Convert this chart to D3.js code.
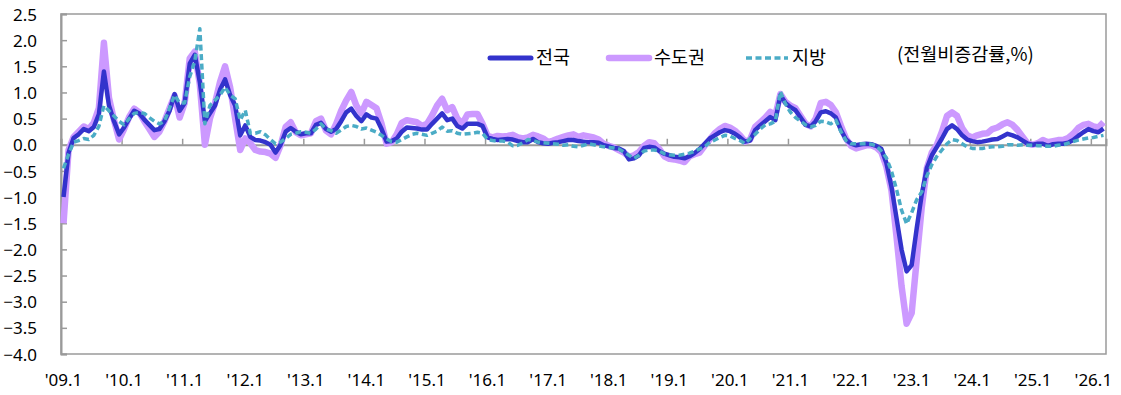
<!DOCTYPE html>
<html><head><meta charset="utf-8">
<script src="https://cdn.jsdelivr.net/npm/d3@7"></script>
<style>
html,body{margin:0;padding:0;background:#fff;}
svg{display:block;font-family:"Noto Sans","Noto Sans CJK KR",sans-serif;}
</style></head>
<body><svg id="chart" width="1121" height="395"></svg>
<script>
// Monthly categories: 2009.01 .. 2026.03
const months = d3.timeMonths(new Date(2009,0,1), new Date(2026,3,1));
const tickLabels = ["'09.1","'10.1","'11.1","'12.1","'13.1","'14.1","'15.1","'16.1","'17.1","'18.1","'19.1","'20.1","'21.1","'22.1","'23.1","'24.1","'25.1","'26.1"];
const yTicks = [2.5,2.0,1.5,1.0,0.5,0.0,-0.5,-1.0,-1.5,-2.0,-2.5,-3.0,-3.5,-4.0];
const seriesNames = ["전국","수도권","지방"];

const sudogwon = [
-1.5,-0.1,0.15,0.25,0.35,0.30,0.42,0.70,1.95,0.90,
0.47,0.10,0.30,0.53,0.69,0.62,0.45,0.30,0.15,0.25,
0.45,0.70,0.94,0.52,0.80,1.65,1.78,1.15,0.00,0.50,
0.80,1.20,1.50,1.10,0.50,-0.10,0.12,0.03,-0.10,-0.13,
-0.14,-0.17,-0.25,-0.01,0.34,0.43,0.24,0.18,0.20,0.22,
0.45,0.50,0.27,0.20,0.40,0.65,0.85,1.01,0.75,0.60,
0.82,0.76,0.70,0.40,0.02,0.05,0.20,0.42,0.47,0.45,
0.43,0.36,0.40,0.56,0.75,0.88,0.66,0.72,0.50,0.40,
0.58,0.59,0.59,0.40,0.17,0.14,0.17,0.16,0.17,0.19,
0.14,0.12,0.14,0.19,0.16,0.12,0.05,0.08,0.12,0.15,
0.18,0.20,0.15,0.18,0.16,0.14,0.10,0.02,-0.02,-0.05,
-0.10,-0.15,-0.23,-0.20,-0.14,-0.02,0.05,0.03,-0.08,-0.22,
-0.27,-0.28,-0.30,-0.33,-0.22,-0.18,-0.15,-0.02,0.10,0.22,
0.30,0.36,0.33,0.27,0.18,0.06,0.10,0.34,0.43,0.52,
0.63,0.56,0.97,0.82,0.75,0.70,0.55,0.40,0.35,0.50,
0.80,0.82,0.76,0.62,0.36,0.12,-0.02,-0.07,-0.04,-0.01,
-0.01,-0.05,-0.14,-0.42,-0.87,-1.75,-2.70,-3.42,-3.22,-2.20,
-1.20,-0.45,-0.15,0.00,0.25,0.55,0.62,0.55,0.32,0.18,
0.14,0.18,0.21,0.22,0.30,0.33,0.39,0.43,0.38,0.28,
0.15,0.02,0.00,0.03,0.09,0.05,0.07,0.09,0.09,0.13,
0.21,0.32,0.38,0.40,0.35,0.33,0.43];

const jeonguk = [
-1.0,-0.15,0.13,0.20,0.30,0.26,0.34,0.58,1.40,0.75,
0.45,0.20,0.33,0.50,0.65,0.60,0.48,0.38,0.28,0.30,
0.45,0.65,0.97,0.65,0.80,1.55,1.72,1.20,0.45,0.60,
0.75,1.05,1.25,0.95,0.75,0.18,0.37,0.15,0.09,0.08,
0.05,0.00,-0.15,0.00,0.25,0.32,0.25,0.20,0.22,0.22,
0.38,0.42,0.30,0.25,0.30,0.45,0.62,0.69,0.55,0.45,
0.58,0.52,0.50,0.30,0.06,0.07,0.12,0.25,0.33,0.32,
0.31,0.29,0.29,0.40,0.50,0.60,0.47,0.50,0.36,0.31,
0.40,0.40,0.40,0.36,0.14,0.11,0.09,0.10,0.11,0.10,
0.07,0.05,0.05,0.11,0.05,0.03,0.02,0.04,0.05,0.07,
0.09,0.09,0.07,0.06,0.05,0.05,0.04,-0.01,-0.03,-0.06,
-0.07,-0.12,-0.28,-0.26,-0.20,-0.06,-0.04,-0.05,-0.12,-0.17,
-0.20,-0.23,-0.24,-0.26,-0.22,-0.16,-0.08,0.02,0.12,0.18,
0.24,0.28,0.26,0.21,0.14,0.06,0.08,0.28,0.37,0.45,
0.53,0.47,0.95,0.80,0.72,0.66,0.52,0.38,0.35,0.45,
0.62,0.64,0.60,0.52,0.28,0.10,0.02,-0.01,0.01,0.02,
0.01,-0.02,-0.08,-0.35,-0.80,-1.40,-2.00,-2.42,-2.30,-1.60,
-0.95,-0.45,-0.20,-0.04,0.12,0.30,0.37,0.30,0.18,0.10,
0.07,0.05,0.06,0.08,0.10,0.11,0.16,0.21,0.18,0.14,
0.08,0.02,0.00,0.02,0.02,-0.02,0.01,0.02,0.02,0.04,
0.09,0.17,0.24,0.30,0.26,0.24,0.31];

const jibang = [
-0.45,-0.18,0.05,0.08,0.12,0.10,0.18,0.35,0.75,0.65,
0.55,0.45,0.38,0.50,0.60,0.62,0.60,0.52,0.45,0.40,
0.45,0.70,0.95,0.80,0.80,1.30,1.60,2.22,0.40,0.75,
0.85,0.95,1.10,0.95,0.88,0.47,0.66,0.22,0.22,0.25,
0.19,0.10,0.02,0.05,0.12,0.20,0.22,0.25,0.24,0.22,
0.30,0.40,0.30,0.27,0.22,0.28,0.35,0.37,0.35,0.30,
0.32,0.28,0.24,0.18,0.11,0.06,0.05,0.10,0.15,0.20,
0.22,0.20,0.18,0.22,0.26,0.34,0.26,0.27,0.22,0.20,
0.21,0.22,0.24,0.22,0.10,0.08,0.07,0.07,0.05,-0.02,
-0.01,0.04,0.10,0.08,0.05,0.04,0.03,0.02,0.01,-0.01,
0.00,-0.03,-0.04,-0.01,0.02,0.00,-0.02,-0.04,-0.05,-0.06,
-0.08,-0.14,-0.20,-0.26,-0.20,-0.12,-0.10,-0.10,-0.12,-0.17,
-0.19,-0.20,-0.20,-0.18,-0.16,-0.12,-0.08,-0.04,0.05,0.09,
0.14,0.18,0.17,0.12,0.08,0.02,0.12,0.20,0.30,0.38,
0.40,0.45,1.02,0.78,0.62,0.52,0.45,0.38,0.34,0.37,
0.45,0.44,0.40,0.47,0.25,0.08,0.02,0.02,0.02,0.02,
0.01,-0.02,-0.12,-0.25,-0.50,-0.85,-1.25,-1.51,-1.30,-1.05,
-0.90,-0.60,-0.38,-0.22,-0.10,0.02,0.10,0.08,0.02,-0.04,
-0.07,-0.07,-0.07,-0.05,-0.04,-0.04,-0.03,0.00,0.00,-0.01,
0.00,-0.01,-0.01,-0.02,-0.02,-0.03,-0.03,-0.01,0.00,0.03,
0.06,0.09,0.11,0.13,0.14,0.16,0.18];

const L = 61, R = 1106, T = 14, B = 354;
const svg = d3.select("#chart");

const x = d3.scaleLinear().domain([0, months.length]).range([L, R]);
const y = d3.scaleLinear().domain([-4, 2.5]).range([B, T]);
const axisColor = "#9a9a9a";

// frame
svg.append("rect").attr("x", L).attr("y", T).attr("width", R - L).attr("height", B - T)
  .attr("fill", "none").attr("stroke", axisColor).attr("stroke-width", 1.5);

// y axis
const yAxis = d3.axisLeft(y).tickValues(yTicks).tickSize(-6).tickPadding(24)
  .tickFormat(d3.format(".1f"));
const gy = svg.append("g").attr("transform", `translate(${L},0)`).call(yAxis);
gy.select(".domain").attr("stroke", axisColor).attr("stroke-width", 2);
gy.selectAll(".tick line").attr("stroke", axisColor).attr("stroke-width", 1.5);
gy.selectAll(".tick text").attr("fill", "#000").attr("font-size", "17px")
  .attr("font-family", '"Noto Sans",sans-serif').attr("dy", "0.36em");

// zero-line axis with ticks
const yearIdx = tickLabels.map((_, k) => k * 12);
const xAxis = d3.axisTop(x).tickValues(yearIdx).tickSize(6).tickFormat("");
const gx = svg.append("g").attr("transform", `translate(0,${y(0)})`).call(xAxis);
gx.select(".domain").attr("stroke", axisColor).attr("stroke-width", 2);
gx.selectAll(".tick line").attr("stroke", axisColor).attr("stroke-width", 1.5);

// bottom labels
const xb = d3.axisBottom(x).tickValues(yearIdx).tickSize(0).tickPadding(0)
  .tickFormat((d, k) => tickLabels[k]);
const gb = svg.append("g").attr("transform", `translate(2,${B})`).call(xb);
gb.select(".domain").remove();
gb.selectAll(".tick text").attr("fill", "#000").attr("font-size", "17px")
  .attr("font-family", '"Noto Sans",sans-serif').attr("y", 32).attr("dy", 0);

// lines
const line = d3.line().x((d, i) => x(i + 0.5)).y(d => y(d));
const series = [
  {name: seriesNames[1], data: sudogwon, color: "#cc99ff", w: 6.5, dash: null},
  {name: seriesNames[0], data: jeonguk, color: "#3333cc", w: 4.5, dash: null},
  {name: seriesNames[2], data: jibang, color: "#4bacc6", w: 3.5, dash: "6,3.5"}
];
series.forEach(s => {
  svg.append("path").datum(s.data).attr("d", line)
    .attr("fill", "none").attr("stroke", s.color).attr("stroke-width", s.w)
    .attr("stroke-linejoin", "round")
    .attr("stroke-dasharray", s.dash);
});

// legend
const legend = [
  {name: seriesNames[0], color: "#3333cc", w: 5, dash: null, x1: 490, x2: 531, tx: 536},
  {name: seriesNames[1], color: "#cc99ff", w: 6.5, dash: null, x1: 609, x2: 649, tx: 654},
  {name: seriesNames[2], color: "#4bacc6", w: 3.5, dash: "6,3.5", x1: 746, x2: 788, tx: 792}
];
const ly = 58;
legend.forEach(l => {
  svg.append("line").attr("x1", l.x1).attr("x2", l.x2).attr("y1", ly).attr("y2", ly)
    .attr("stroke", l.color).attr("stroke-width", l.w).attr("stroke-linecap", l.dash ? "butt" : "round")
    .attr("stroke-dasharray", l.dash);
  svg.append("text").attr("x", l.tx).attr("y", ly).attr("dy", "0.35em")
    .attr("font-size", "18.5px").attr("fill", "#000")
    .attr("font-family", '"Noto Sans CJK KR",sans-serif').text(l.name);
});
svg.append("text").attr("x", 897).attr("y", 55).attr("dy", "0.35em")
  .attr("font-size", "18.5px").attr("fill", "#000")
  .attr("font-family", '"Noto Sans CJK KR",sans-serif').text("(전월비증감률,%)");
</script></body></html>
